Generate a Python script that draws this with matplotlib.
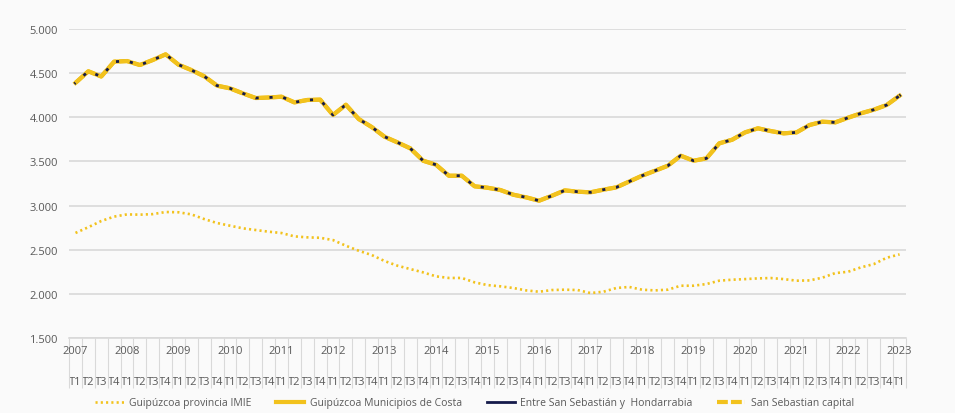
import numpy as np
import matplotlib.pyplot as plt

plt.rcParams['font.family'] = ['Open Sans', 'DejaVu Sans']

years = list(range(2007, 2024))
trimestres = ["T1", "T2", "T3", "T4"]
etiquetas = [t for y in years for t in trimestres][:65]

imie = [2690, 2755, 2825, 2875, 2900, 2897, 2903, 2927, 2924, 2900,
        2847, 2802, 2772, 2742, 2723, 2704, 2689, 2651, 2640, 2635,
        2609, 2545, 2488, 2440, 2372, 2319, 2281, 2243, 2198, 2180,
        2180, 2130, 2099, 2085, 2066, 2039, 2024, 2043, 2047, 2043,
        2009, 2024, 2066, 2078, 2047, 2039, 2047, 2092, 2092, 2111,
        2149, 2160, 2167, 2175, 2179, 2167, 2149, 2152, 2183, 2235,
        2250, 2300, 2337, 2409, 2447]

costa = [4390, 4521, 4462, 4630, 4637, 4592, 4649, 4713, 4596, 4535,
         4464, 4358, 4328, 4271, 4218, 4224, 4233, 4169, 4196, 4200,
         4026, 4142, 3980, 3890, 3780, 3716, 3648, 3508, 3462, 3338,
         3338, 3218, 3202, 3176, 3123, 3093, 3055, 3111, 3172, 3157,
         3150, 3180, 3206, 3272, 3338, 3394, 3451, 3565, 3508, 3535,
         3705, 3746, 3829, 3875, 3844, 3818, 3829, 3912, 3950, 3942,
         3995, 4045, 4086, 4139, 4245]
entre = list(costa)
capital = list(costa)

amarillo = '#f2c21d'
marino = '#151a4a'
gris = '#d9d9d9'
texto = '#595959'
fondo = '#fafafa'

fig = plt.figure(figsize=(9.55, 4.14), dpi=100, facecolor=fondo)
ax = fig.add_axes([0.0723, 0.1812, 0.8764, 0.7463], facecolor=fondo)

x = np.arange(len(etiquetas))
ax.plot(x, imie, color=amarillo, lw=1.9, linestyle=(0, (0.8, 1.2)),
        label="Guipúzcoa provincia IMIE", zorder=3)
ax.plot(x, costa, color=amarillo, lw=3.0, solid_joinstyle='round',
        label="Guipúzcoa Municipios de Costa", zorder=4)
ax.plot(x, entre, color=marino, lw=2.0,
        label="Entre San Sebastián y  Hondarrabia", zorder=5)
ax.plot(x, capital, color=amarillo, lw=3.0, linestyle=(0, (2.6, 0.75)),
        label="San Sebastian capital", zorder=6)

ax.set_ylim(1500, 5000)
ax.set_xlim(-0.5, len(etiquetas) - 0.5)
yt = list(range(1500, 5001, 500))
ax.set_yticks(yt)
ax.set_yticklabels([f"{v:,}".replace(",", ".") for v in yt])
ax.grid(axis='y', color=gris, lw=1.2)
ax.set_axisbelow(True)
for s in ['top', 'right', 'left']:
    ax.spines[s].set_visible(False)
ax.spines['bottom'].set_color(gris)
ax.spines['bottom'].set_linewidth(1.2)

ax.tick_params(axis='y', length=0, pad=8, labelsize=8, labelcolor=texto)
ax.set_xticks(x)
ax.set_xticklabels(etiquetas)
ax.tick_params(axis='x', which='major', length=0, pad=27.5, labelsize=8,
               labelcolor=texto)
ax.set_xticks(np.arange(-0.5, len(etiquetas), 1), minor=True)
ax.tick_params(axis='x', which='minor', length=36, width=0.8, color=gris)

for i, yr in enumerate(years):
    ax.text(4 * i, -0.039, str(yr), transform=ax.get_xaxis_transform(),
            ha='center', va='center', fontsize=8, color=texto)

fig.legend(loc='center', bbox_to_anchor=(0.497, 1 - 404 / 414), ncol=4,
           frameon=False, fontsize=7.5, labelcolor=texto, handlelength=2.7,
           handletextpad=0.5, columnspacing=2.4)

fig.savefig('out.png', dpi=100, facecolor=fondo)
